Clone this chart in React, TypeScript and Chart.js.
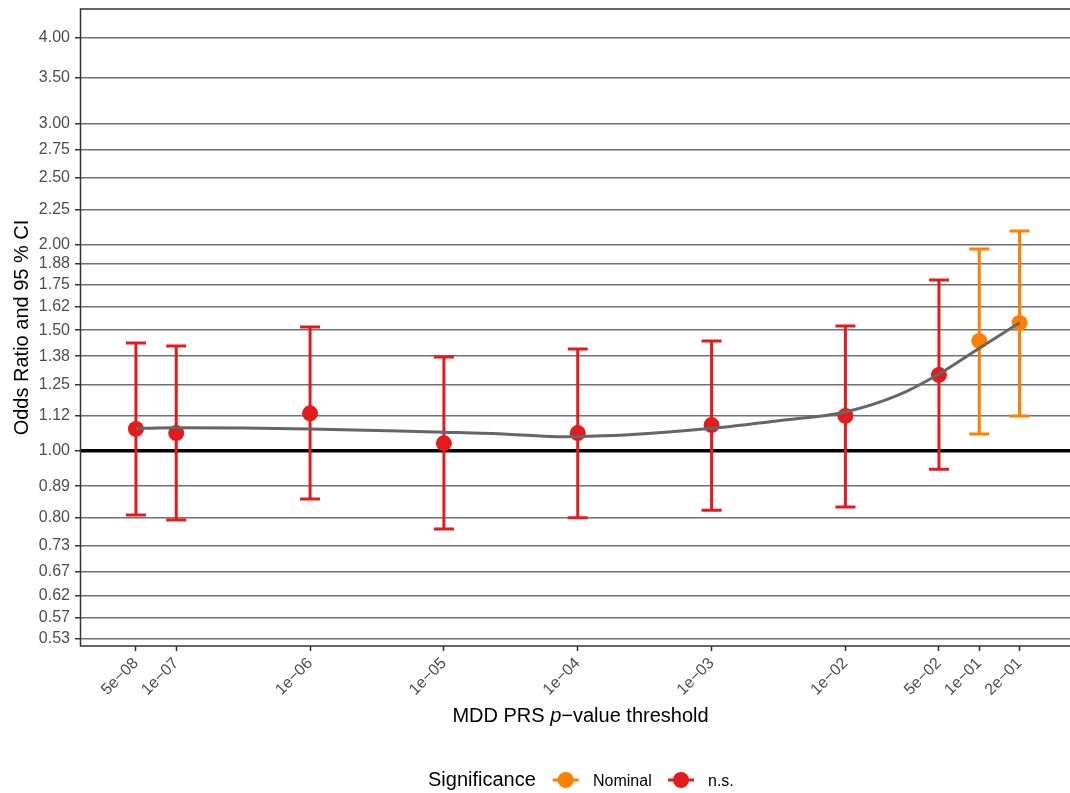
import React, { useEffect, useRef } from 'react';
import { Chart, registerables } from 'chart.js';

Chart.register(...registerables);

const FONT = "'Liberation Sans', Arial, Helvetica, sans-serif";

const thresholds = [5e-8, 1e-7, 1e-6, 1e-5, 1e-4, 1e-3, 1e-2, 5e-2, 1e-1, 2e-1];
const thresholdLabels = ['5e\u221208', '1e\u221207', '1e\u221206', '1e\u221205', '1e\u221204', '1e\u221203', '1e\u221202', '5e\u221202', '1e\u221201', '2e\u221201'];
const oddsRatio = [1.077, 1.062, 1.135, 1.026, 1.062, 1.091, 1.125, 1.291, 1.447, 1.537];
const ciLower = [0.807, 0.793, 0.851, 0.770, 0.799, 0.820, 0.829, 0.941, 1.059, 1.125];
const ciUpper = [1.437, 1.423, 1.516, 1.371, 1.408, 1.447, 1.521, 1.775, 1.970, 2.093];
const significance = ['n.s.', 'n.s.', 'n.s.', 'n.s.', 'n.s.', 'n.s.', 'n.s.', 'n.s.', 'Nominal', 'Nominal'];

const smoothX = [5e-8, 1e-7, 3.16e-7, 1e-6, 3.16e-6, 1e-5, 3e-5, 7e-5, 1e-4, 2.4e-4, 1e-3, 3.16e-3, 1e-2, 2.5e-2, 5e-2, 1e-1, 2e-1];
const smoothY = [1.079, 1.081, 1.080, 1.077, 1.071, 1.065, 1.058, 1.049, 1.050, 1.056, 1.079, 1.107, 1.140, 1.207, 1.295, 1.412, 1.538];

const yTickValues = [1 / 1.875, 1 / 1.75, 1 / 1.625, 1 / 1.5, 1 / 1.375, 0.8, 1 / 1.125, 1, 1.125, 1.25, 1.375, 1.5, 1.625, 1.75, 1.875, 2, 2.25, 2.5, 2.75, 3, 3.5, 4];
const yTickLabels = ['0.53', '0.57', '0.62', '0.67', '0.73', '0.80', '0.89', '1.00', '1.12', '1.25', '1.38', '1.50', '1.62', '1.75', '1.88', '2.00', '2.25', '2.50', '2.75', '3.00', '3.50', '4.00'];

const legendLevels = ['Nominal', 'n.s.'];
const palette: Record<string, string> = { 'Nominal': '#FF7F00', 'n.s.': '#E41A1C' };

const X_MIN = 1.91e-8;
const X_MAX = 0.4764;
const Y_MIN = 0.5197;
const Y_MAX = 4.409;

const decorPlugin = {
  id: 'decor',
  beforeDatasetsDraw(chart: any) {
    const { ctx, scales } = chart;
    const x = scales.x;
    const y = scales.y;
    ctx.save();
    ctx.lineWidth = 3;
    ctx.lineCap = 'butt';
    thresholds.forEach((t, i) => {
      const px = x.getPixelForValue(t);
      const yl = y.getPixelForValue(ciLower[i]);
      const yu = y.getPixelForValue(ciUpper[i]);
      ctx.strokeStyle = palette[significance[i]];
      ctx.beginPath();
      ctx.moveTo(px, yl);
      ctx.lineTo(px, yu);
      ctx.moveTo(px - 10, yl);
      ctx.lineTo(px + 10, yl);
      ctx.moveTo(px - 10, yu);
      ctx.lineTo(px + 10, yu);
      ctx.stroke();
    });
    ctx.restore();
  },
  afterDatasetsDraw(chart: any) {
    const { ctx, chartArea } = chart;
    ctx.save();
    ctx.strokeStyle = '#333333';
    ctx.lineWidth = 1.5;
    ctx.strokeRect(chartArea.left + 0.5, chartArea.top, chartArea.right - chartArea.left + 10, chartArea.bottom - chartArea.top);
    ctx.restore();
  },
  afterDraw(chart: any) {
    const { ctx, chartArea } = chart;
    ctx.save();
    ctx.fillStyle = '#000000';
    // y title
    ctx.save();
    ctx.translate(28, (chartArea.top + chartArea.bottom) / 2);
    ctx.rotate(-Math.PI / 2);
    ctx.font = `20px ${FONT}`;
    ctx.textAlign = 'center';
    ctx.textBaseline = 'alphabetic';
    ctx.fillText('Odds Ratio and 95 % CI', 0, 0);
    ctx.restore();

    // x title with italic p
    const parts = [
      { t: 'MDD PRS ', f: `20px ${FONT}` },
      { t: 'p', f: `italic 20px ${FONT}` },
      { t: '\u2212value threshold', f: `20px ${FONT}` },
    ];
    let total = 0;
    parts.forEach((p) => {
      ctx.font = p.f;
      total += ctx.measureText(p.t).width;
    });
    let cx = 580.5 - total / 2;
    ctx.textAlign = 'left';
    ctx.textBaseline = 'alphabetic';
    parts.forEach((p) => {
      ctx.font = p.f;
      ctx.fillText(p.t, cx, 721.5);
      cx += ctx.measureText(p.t).width;
    });

    // legend
    const ly = 780;
    ctx.font = `20px ${FONT}`;
    ctx.fillText('Significance', 428, 786);
    const glyphX = [565.7, 681];
    const textX = [593, 708];
    legendLevels.forEach((lv, i) => {
      const c = palette[lv];
      ctx.strokeStyle = c;
      ctx.fillStyle = c;
      ctx.lineWidth = 3;
      ctx.beginPath();
      ctx.moveTo(glyphX[i] - 13, ly);
      ctx.lineTo(glyphX[i] + 13, ly);
      ctx.stroke();
      ctx.beginPath();
      ctx.arc(glyphX[i], ly, 8, 0, Math.PI * 2);
      ctx.fill();
      ctx.fillStyle = '#000000';
      ctx.font = `16px ${FONT}`;
      ctx.fillText(lv, textX[i], 786);
    });
    ctx.restore();
  },
};

export default function App() {
  const ref = useRef<HTMLCanvasElement | null>(null);
  useEffect(() => {
    if (!ref.current) return;
    const chart = new Chart(ref.current, {
      type: 'scatter',
      data: {
        datasets: [
          {
            type: 'line',
            label: 'smooth',
            data: smoothX.map((v, i) => ({ x: v, y: smoothY[i] })),
            borderColor: '#666666',
            borderWidth: 3,
            pointRadius: 0,
            tension: 0.4,
            cubicInterpolationMode: 'monotone',
            fill: false,
            order: 0,
          } as any,
          {
            type: 'scatter',
            label: 'points',
            data: thresholds.map((v, i) => ({ x: v, y: oddsRatio[i] })),
            pointRadius: 8,
            pointHoverRadius: 8,
            pointBorderWidth: 0,
            pointBackgroundColor: significance.map((s) => palette[s]),
            pointBorderColor: significance.map((s) => palette[s]),
            order: 1,
          } as any,
        ],
      },
      options: {
        animation: false,
        responsive: false,
        maintainAspectRatio: false,
        events: [],
        layout: { autoPadding: false, padding: { top: 9, left: 0, right: 0, bottom: 0 } },
        plugins: {
          legend: { display: false },
          tooltip: { enabled: false },
          title: { display: false },
        },
        scales: {
          x: {
            type: 'logarithmic',
            position: 'bottom',
            min: X_MIN,
            max: X_MAX,
            afterBuildTicks: (scale: any) => {
              scale.ticks = thresholds.map((v) => ({ value: v }));
            },
            afterFit: (scale: any) => {
              scale.height = 147;
              scale.paddingLeft = 0;
              scale.paddingRight = 0;
            },
            ticks: {
              autoSkip: false,
              minRotation: 45,
              maxRotation: 45,
              padding: 3,
              color: '#4d4d4d',
              font: { family: FONT, size: 16 },
              callback: (_v: any, i: number) => thresholdLabels[i],
            },
            grid: {
              drawOnChartArea: false,
              drawTicks: true,
              tickLength: 5,
              tickColor: '#333333',
              tickWidth: 1.5,
            },
            border: { display: false },
          },
          y: {
            type: 'logarithmic',
            min: Y_MIN,
            max: Y_MAX,
            afterBuildTicks: (scale: any) => {
              scale.ticks = yTickValues.map((v) => ({ value: v }));
            },
            afterFit: (scale: any) => {
              scale.width = 80;
              scale.paddingTop = 0;
              scale.paddingBottom = 0;
            },
            ticks: {
              autoSkip: false,
              padding: 5,
              color: '#4d4d4d',
              font: { family: FONT, size: 16 },
              callback: (_v: any, i: number) => yTickLabels[i],
            },
            grid: {
              color: (c: any) => (c.tick && Math.abs(c.tick.value - 1) < 1e-9 ? '#000000' : '#707070'),
              lineWidth: (c: any) => (c.tick && Math.abs(c.tick.value - 1) < 1e-9 ? 3.5 : 1.5),
              drawTicks: true,
              tickLength: 5,
              tickColor: '#333333',
              tickWidth: 1.5,
            },
            border: { display: false },
          },
        },
      },
      plugins: [decorPlugin],
    });
    return () => chart.destroy();
  }, []);

  return (
    <div style={{ position: 'absolute', left: 0, top: 0, width: 1070, height: 793, background: '#ffffff' }}>
      <canvas ref={ref} width={1070} height={793} style={{ display: 'block' }} />
    </div>
  );
}
